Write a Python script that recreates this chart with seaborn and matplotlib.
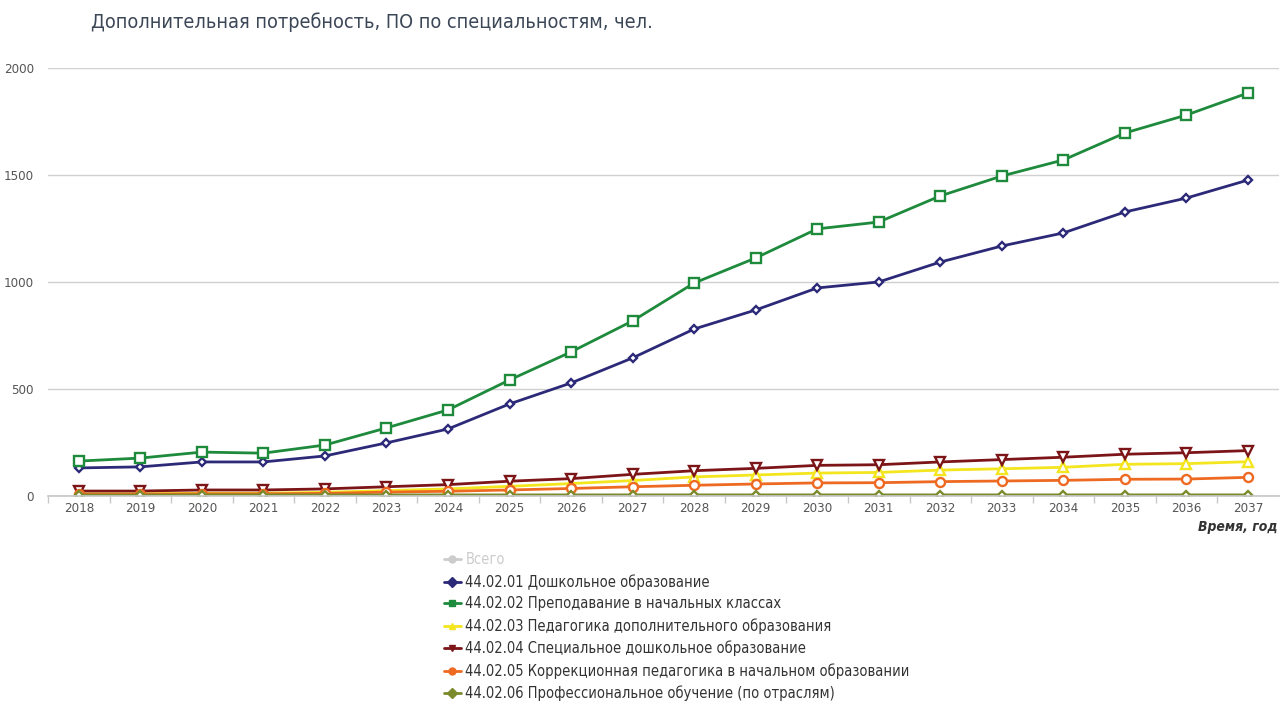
"""Additional demand for specialists by year (line chart)."""
import matplotlib
matplotlib.use("Agg")
import matplotlib.pyplot as plt
from matplotlib.lines import Line2D
import pandas as pd
import seaborn as sns

years = list(range(2018, 2038))

series_names = [
    "44.02.01 Дошкольное образование",
    "44.02.02 Преподавание в начальных классах",
    "44.02.03 Педагогика дополнительного образования",
    "44.02.04 Специальное дошкольное образование",
    "44.02.05 Коррекционная педагогика в начальном образовании",
    "44.02.06 Профессиональное обучение (по отраслям)",
]

preschool = [131, 136, 159, 159, 187, 248, 313, 430, 528, 645,
             780, 869, 972, 1000, 1093, 1168, 1229, 1327, 1392, 1476]
primary = [163, 177, 205, 200, 238, 318, 402, 542, 673, 818,
           995, 1112, 1248, 1280, 1402, 1495, 1570, 1696, 1780, 1883]
extra_ed = [10, 10, 13, 13, 17, 25, 33, 45, 58, 72,
            89, 98, 107, 110, 121, 127, 134, 148, 151, 160]
special = [23, 23, 28, 28, 33, 43, 53, 69, 81, 101,
           118, 129, 143, 146, 159, 170, 181, 195, 202, 212]
correction = [8, 8, 10, 10, 12, 18, 22, 28, 35, 43,
              50, 56, 61, 62, 67, 70, 73, 78, 79, 87]
vocational = [4, 4, 5, 5, 5, 5, 5, 5, 5, 5,
              5, 5, 5, 5, 5, 5, 5, 5, 5, 5]

colors = ["#2c2a78", "#1e8a3c", "#f3e51e", "#7c1518", "#ee6a22", "#7b8a2b"]
markers = ["D", "s", "^", "v", "o", "D"]
msizes = [4.5, 6.5, 6.5, 6.5, 6.5, 4.5]

values = [preschool, primary, extra_ed, special, correction, vocational]

sns.set_theme(style="white")
plt.rcParams["font.family"] = ["DejaVu Sans"]
plt.rcParams["font.stretch"] = "condensed"

fig = plt.figure(figsize=(12.8, 7.04), dpi=100)
ax = fig.add_axes([0.0375, 0.2955, 0.9615, 0.608])

for name, vals, c, m, ms in zip(series_names, values, colors, markers, msizes):
    df = pd.DataFrame({"year": years, "value": vals})
    sns.lineplot(data=df, x="year", y="value", ax=ax, color=c, linewidth=2,
                 marker=m, markersize=ms, markerfacecolor="white",
                 markeredgecolor=c, markeredgewidth=1.7, legend=False)

ax.set_xlim(2017.5, 2037.5)
ax.set_ylim(0, 2000)
ax.set_yticks([0, 500, 1000, 1500, 2000])
ax.set_xticks(years)
ax.set_xticks([y + 0.5 for y in years[:-1]] + [2017.5], minor=True)
ax.grid(axis="y", color="#d0d0d0", linewidth=1)
ax.set_axisbelow(True)
for side in ["top", "right", "left"]:
    ax.spines[side].set_visible(False)
ax.spines["bottom"].set_color("#c8c8c8")
ax.tick_params(axis="x", which="major", length=0, labelsize=9.5, colors="#555555", pad=4)
ax.tick_params(axis="x", which="minor", length=5, color="#c8c8c8", bottom=True)
ax.tick_params(axis="y", length=0, labelsize=9.5, colors="#555555", pad=10)
ax.set_xlabel("")
ax.set_ylabel("")

fig.text(0.998, 0.252, "Время, год", ha="right", va="center", fontsize=10,
         fontweight="bold", fontstyle="italic", color="#333333")
fig.text(0.071, 0.968, "Дополнительная потребность, ПО по специальностям, чел.",
         ha="left", va="center", fontsize=14.2, color="#3b4656")

handles = [Line2D([], [], color="#cccccc", marker="o", markersize=5, linewidth=2)]
labels = ["Всего"]
for name, c, m in zip(series_names, colors, markers):
    handles.append(Line2D([], [], color=c, marker=m, markersize=5, linewidth=2))
    labels.append(name)

leg = fig.legend(handles, labels, loc="upper left", bbox_to_anchor=(0.342, 0.224),
                 frameon=False, fontsize=10.5, handlelength=1.2, handletextpad=0.3,
                 labelspacing=0.47, borderaxespad=0)
for i, t in enumerate(leg.get_texts()):
    t.set_color("#cccccc" if i == 0 else "#333333")

fig.savefig("out.png", dpi=100)
